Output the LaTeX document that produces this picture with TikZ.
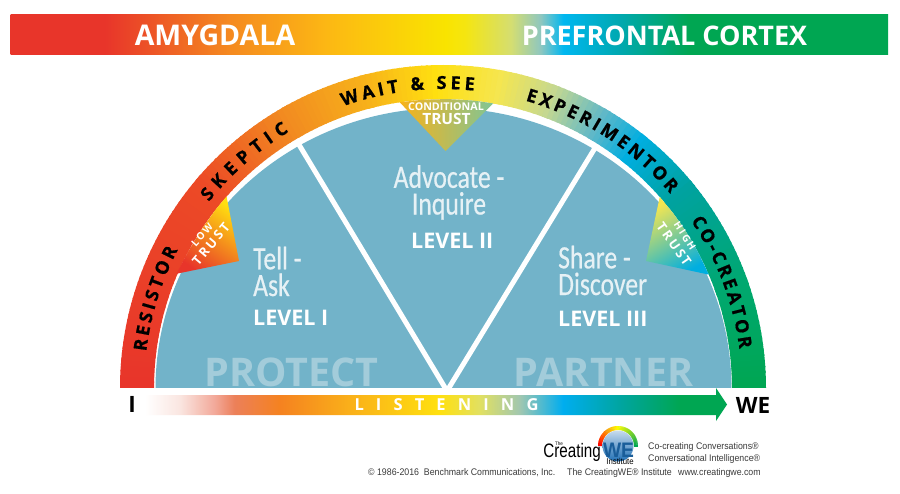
\documentclass[tikz,border=0pt]{standalone}
\usepackage{fontspec}
\usetikzlibrary{decorations.text}
\setmainfont{Open Sans}
\newfontfamily\cond[FakeStretch=0.79,FakeBold=0.5]{Carlito}
\newfontfamily\arial[FakeStretch=0.915]{Liberation Sans}
\newfontfamily\logofont[FakeStretch=0.78]{Liberation Sans}
\definecolor{sa}{HTML}{E8352A}\definecolor{sb}{HTML}{EC4A26}\definecolor{sc}{HTML}{F28D20}
\definecolor{sd}{HTML}{F7B21A}\definecolor{se}{HTML}{FFDF10}\definecolor{sf}{HTML}{F5E650}
\definecolor{sg}{HTML}{C5D890}\definecolor{sh}{HTML}{60B8C8}\definecolor{si}{HTML}{00AEE0}
\definecolor{sj}{HTML}{00A2A0}\definecolor{sk}{HTML}{00A870}\definecolor{sl}{HTML}{00A651}
\definecolor{blueregion}{HTML}{72B3C9}
\definecolor{ghost}{HTML}{A3CCDA}
\definecolor{softwhite}{HTML}{E6F1F5}
\definecolor{logoblue}{HTML}{1F6FB5}
\definecolor{greytext}{HTML}{3A3A3A}
\pgfdeclarehorizontalshading{topbar}{100bp}{
color(0bp)=(sa); color(25bp)=(sa); color(30.4bp)=(sa); rgb(37.5bp)=(0.96,0.54,0.125); rgb(43.2bp)=(0.99,0.725,0.075);
rgb(49.8bp)=(0.976,0.894,0); rgb(50.9bp)=(0.96,0.90,0.063); rgb(53.5bp)=(0.835,0.87,0.44); rgb(55.2bp)=(0.56,0.78,0.75);
rgb(56.5bp)=(0,0.718,0.94); rgb(59.7bp)=(0,0.66,0.69); rgb(63.7bp)=(0,0.65,0.32); rgb(75bp)=(0,0.65,0.32); rgb(100bp)=(0,0.65,0.32)}
\pgfdeclarehorizontalshading{arrowbar}{100bp}{
color(0bp)=(white); color(25bp)=(white); rgb(28bp)=(0.98,0.90,0.88); rgb(31bp)=(0.95,0.66,0.60); rgb(32.7bp)=(0.925,0.50,0.35);
rgb(36.6bp)=(0.96,0.51,0.125); rgb(42.6bp)=(0.98,0.69,0.10); rgb(50.3bp)=(1,0.88,0.06); rgb(53.7bp)=(0.886,0.88,0.376);
rgb(57.2bp)=(0.63,0.78,0.69); rgb(60.9bp)=(0,0.68,0.937); rgb(65.8bp)=(0,0.647,0.63); rgb(71bp)=(0,0.65,0.32); rgb(75bp)=(0,0.65,0.32); rgb(100bp)=(0,0.65,0.32)}
\newcommand{\PP}[2]{({443+(#2)*cos(#1)},{388-(#2)*sin(#1)})}
\tikzset{
  arcword/.style={decorate,decoration={text along path,text align={fit to path},
     text={|\fontsize{18}{18}\selectfont\bfseries\addfontfeature{FakeBold=0.8}|#1}}},
  toptitle/.style={text=white,font=\fontsize{27}{27}\selectfont\bfseries,inner sep=0pt},
  captext/.style={text=softwhite,font=\cond\fontsize{32.5}{26.7}\selectfont,inner sep=0pt},
  leveltext/.style={text=white,font=\fontsize{21.5}{21.5}\selectfont\bfseries,inner sep=0pt,anchor=base west},
  ghostword/.style={text=ghost,font=\fontsize{39.5}{39.5}\selectfont\bfseries,inner sep=0pt,anchor=base},
  trustword/.style={text=white,font=\fontsize{10}{10}\selectfont\bfseries\addfontfeature{LetterSpace=18},inner sep=0pt},
  trustbig/.style={text=white,font=\fontsize{13}{13}\selectfont\bfseries\addfontfeature{LetterSpace=18},inner sep=0pt},
  endword/.style={text=black,font=\fontsize{22.5}{22.5}\selectfont\bfseries,inner sep=0pt},
  foot/.style={text=greytext,font=\arial\fontsize{9.6}{9.6}\selectfont,inner sep=0pt,anchor=base west},
}
\begin{document}
\begin{tikzpicture}[x=1pt,y=-1pt]
\useasboundingbox (0,0) rectangle (900,494);
\fill[white] (0,0) rectangle (900,494);
% top bar
\path[shading=topbar] (10.5,15) rectangle (888,55);
\node[toptitle,font=\fontsize{28.5}{28.5}\selectfont\bfseries] (amyg) at (215,35.5) {AMYGDALA};
\node[toptitle] (pref) at (664.5,35.5) {PREFRONTAL CORTEX};
% rainbow band
\foreach \ca/\cb/\aa/\ab in {sa/sb/180/140,sb/sc/140/120,sc/sd/120/105,sd/se/105/92,se/sf/92/80,sf/sg/80/70,sg/sh/70/60,sh/si/60/52,si/sj/52/40,sj/sk/40/20,sk/sl/20/0}{
  \pgfmathtruncatemacro{\nn}{\aa-\ab}
  \foreach \t in {0,...,\nn}{
    \pgfmathsetmacro{\ang}{\aa-\t}
    \pgfmathsetmacro{\angb}{max(\ang-1.3,0)}
    \pgfmathtruncatemacro{\pp}{100*\t/\nn}
    \fill[color=\cb!\pp!\ca] \PP{\ang}{289} -- \PP{\ang}{323} -- \PP{\angb}{323} -- \PP{\angb}{289} -- cycle;
  }
}
% blue half-disc
\fill[blueregion] plot[domain=180:0,samples=120] ({443.5+288*cos(\x)},{388-280*sin(\x)}) -- cycle;
% ghost words
\begin{scope}
\clip (150,300) rectangle (740,388);
\node[ghostword] (protect) at (291.5,387) {PROTECT};
\node[ghostword] (partner) at (603.5,387) {PARTNER};
\end{scope}
% white dividers
\draw[white,line width=5pt] (447,391) -- (298,143);
\draw[white,line width=5pt] (447,391) -- (595,148);
% trust wedges
\path[bottom color=sa,middle color=sc,top color=se,shading angle=-35]
  (239,261) -- \PP{156.8}{290} -- \PP{152}{289} -- \PP{147}{289} -- \PP{142}{289} -- \PP{138.5}{289} -- cycle;
\path[top color=sf,middle color=sj,bottom color=si,shading angle=30]
  (646,261) -- \PP{41.4}{289} -- \PP{37}{289} -- \PP{33}{289} -- \PP{28}{289} -- \PP{23.1}{289} -- cycle;
\path[left color=sd,middle color=sf!50!sd,right color=sg!65!sj]
  (445.5,151) -- \PP{98.6}{289} -- \PP{94}{289} -- \PP{89}{289} -- \PP{84}{289} -- \PP{80}{289} -- cycle;
\node[trustword,rotate=48] (lowa) at (202,235) {LOW};
\node[trustbig,rotate=50] (lowb) at (211,244) {TRUST};
\node[trustword,rotate=-57] (higha) at (685,236) {HIGH};
\node[trustbig,rotate=-55] (highb) at (674,244) {TRUST};
\node[trustword,font=\fontsize{10.7}{10.7}\selectfont\bfseries] (conda) at (446,107) {CONDITIONAL};
\node[trustbig,font=\fontsize{15.5}{15.5}\selectfont\bfseries] (condb) at (446.5,119) {TRUST};
% arc words
\path[arcword={RESISTOR}] plot[domain=173:152.5,samples=30] ({443+299*cos(\x)},{388-299*sin(\x)});
\path[arcword={SKEPTIC}] plot[domain=141.5:121,samples=30] ({443+299*cos(\x)},{388-299*sin(\x)});
\path[arcword={WAIT {\&} SEE}] plot[domain=109.5:84,samples=30] ({443+299*cos(\x)},{388-299*sin(\x)});
\path[arcword={EXPERIMENTOR}] plot[domain=74:40.5,samples=40] ({443+299*cos(\x)},{388-299*sin(\x)});
\path[arcword={CO-CREATOR}] plot[domain=34:7.5,samples=30] ({443+299*cos(\x)},{388-299*sin(\x)});
% inner captions
\node[captext,align=left,anchor=west] (tell) at (253,271.5) {Tell -\\Ask};
\node[leveltext] (l1) at (253,326) {LEVEL I};
\node[captext,align=center] (advo) at (449,192.5) {Advocate -\\Inquire};
\node[leveltext] (l2) at (411,249) {LEVEL II};
\node[captext,align=left,anchor=west] (share) at (558,270.5) {Share -\\Discover};
\node[leveltext] (l3) at (558,327) {LEVEL III};
% listening arrow
\path[shading=arrowbar] (145,395) -- (716,395) -- (716,388) -- (727,404.5) -- (716,421) -- (716,415) -- (145,415) -- cycle;
\node[text=white,font=\fontsize{16.5}{16.5}\selectfont\bfseries,inner sep=0pt] (listen) at (446.5,405) {L\hspace{0.735em}I\hspace{0.735em}S\hspace{0.735em}T\hspace{0.735em}E\hspace{0.735em}N\hspace{0.735em}I\hspace{0.735em}N\hspace{0.735em}G};
\node[endword] (iw) at (132,404.5) {I};
\node[endword] (we) at (753,405) {WE};
% logo
\foreach \ca/\cb/\aa/\ab in {red/orange/180/135,orange/yellow/135/95,yellow/sl/95/0}{
  \pgfmathtruncatemacro{\nn}{(\aa-\ab)/3}
  \foreach \t in {0,...,\nn}{
    \pgfmathsetmacro{\ang}{\aa-\t*3}
    \pgfmathtruncatemacro{\pp}{100*\t/\nn}
    \draw[color=\cb!\pp!\ca,line width=4pt] ({618+18*cos(\ang)},{446-18*sin(\ang)}) -- ({618+18*cos(\ang-4)},{446-18*sin(\ang-4)});
  }
}
\path[top color=logoblue!25!white,bottom color=logoblue] (618,446) circle[radius=15.5];
\node[text=black,font=\logofont\fontsize{19.5}{19.5}\selectfont,inner sep=0pt,anchor=base east] (creating) at (601,457) {Creating};
\node[text=black,font=\arial\fontsize{5}{5}\selectfont,inner sep=0pt] (the) at (559,443.5) {The};
\node[text=logoblue!85!black,font=\arial\fontsize{21}{21}\selectfont\bfseries,inner sep=0pt] (wew) at (618.5,450) {WE};
\node[text=black,font=\arial\fontsize{8.5}{8.5}\selectfont,inner sep=0pt] (inst) at (620,461.5) {Institute};
\node[foot] (f1) at (648,449) {Co-creating Conversations®};
\node[foot] (f2) at (648,461) {Conversational Intelligence®};
\node[foot] (f3) at (368,475) {© 1986-2016~~Benchmark Communications, Inc.};
\node[foot] (f4) at (567,475) {The CreatingWE® Institute};
\node[foot] (f5) at (678,475) {www.creatingwe.com};
\end{tikzpicture}
\end{document}
